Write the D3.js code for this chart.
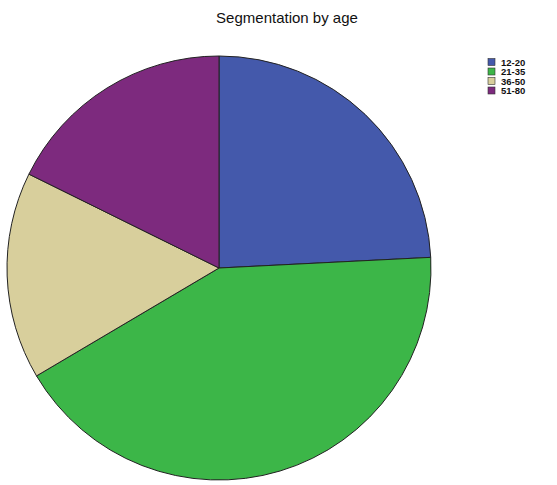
<!DOCTYPE html>
<html><head><meta charset="utf-8">
<script src="https://cdn.jsdelivr.net/npm/d3@7"></script>
<style>body{margin:0;background:#fff}</style>
</head><body>
<script>
const categories = ["12-20", "21-35", "36-50", "51-80"];
const values = [24.2, 42.3, 15.8, 17.7];
const colors = ["#4459ab", "#3cb648", "#d8cf9c", "#7d2a7e"];

const W = 557, H = 485;
const svg = d3.select("body").append("svg").attr("width", W).attr("height", H);

svg.append("text").attr("x", 287).attr("y", 23).attr("text-anchor", "middle")
  .attr("font-family", "Liberation Sans, Arial, sans-serif").attr("font-size", 15)
  .attr("fill", "#111").text("Segmentation by age");

const cx = 219, cy = 268, r = 212;
const pie = d3.pie().sort(null).value(d => d.v);
const arc = d3.arc().innerRadius(0).outerRadius(r);
const data = categories.map((c, i) => ({c, v: values[i], col: colors[i]}));
svg.append("g").attr("transform", `translate(${cx},${cy})`)
  .selectAll("path").data(pie(data)).join("path")
  .attr("d", arc).attr("fill", d => d.data.col)
  .attr("stroke", "#222").attr("stroke-width", 1);

const lg = svg.append("g").attr("transform", "translate(488,57)");
const y = d3.scaleBand().domain(categories).range([0, 38]);
lg.selectAll("rect").data(data).join("rect")
  .attr("x", 0).attr("y", d => y(d.c) + 1.5).attr("width", 7).attr("height", 7)
  .attr("fill", d => d.col).attr("stroke", "#333").attr("stroke-width", 0.6);
lg.selectAll("text").data(data).join("text")
  .attr("x", 13).attr("y", d => y(d.c) + 8.5)
  .attr("font-family", "Liberation Sans, Arial, sans-serif").attr("font-size", 9.5)
  .attr("font-weight", "bold").attr("fill", "#111").text(d => d.c);
</script>
</body></html>
